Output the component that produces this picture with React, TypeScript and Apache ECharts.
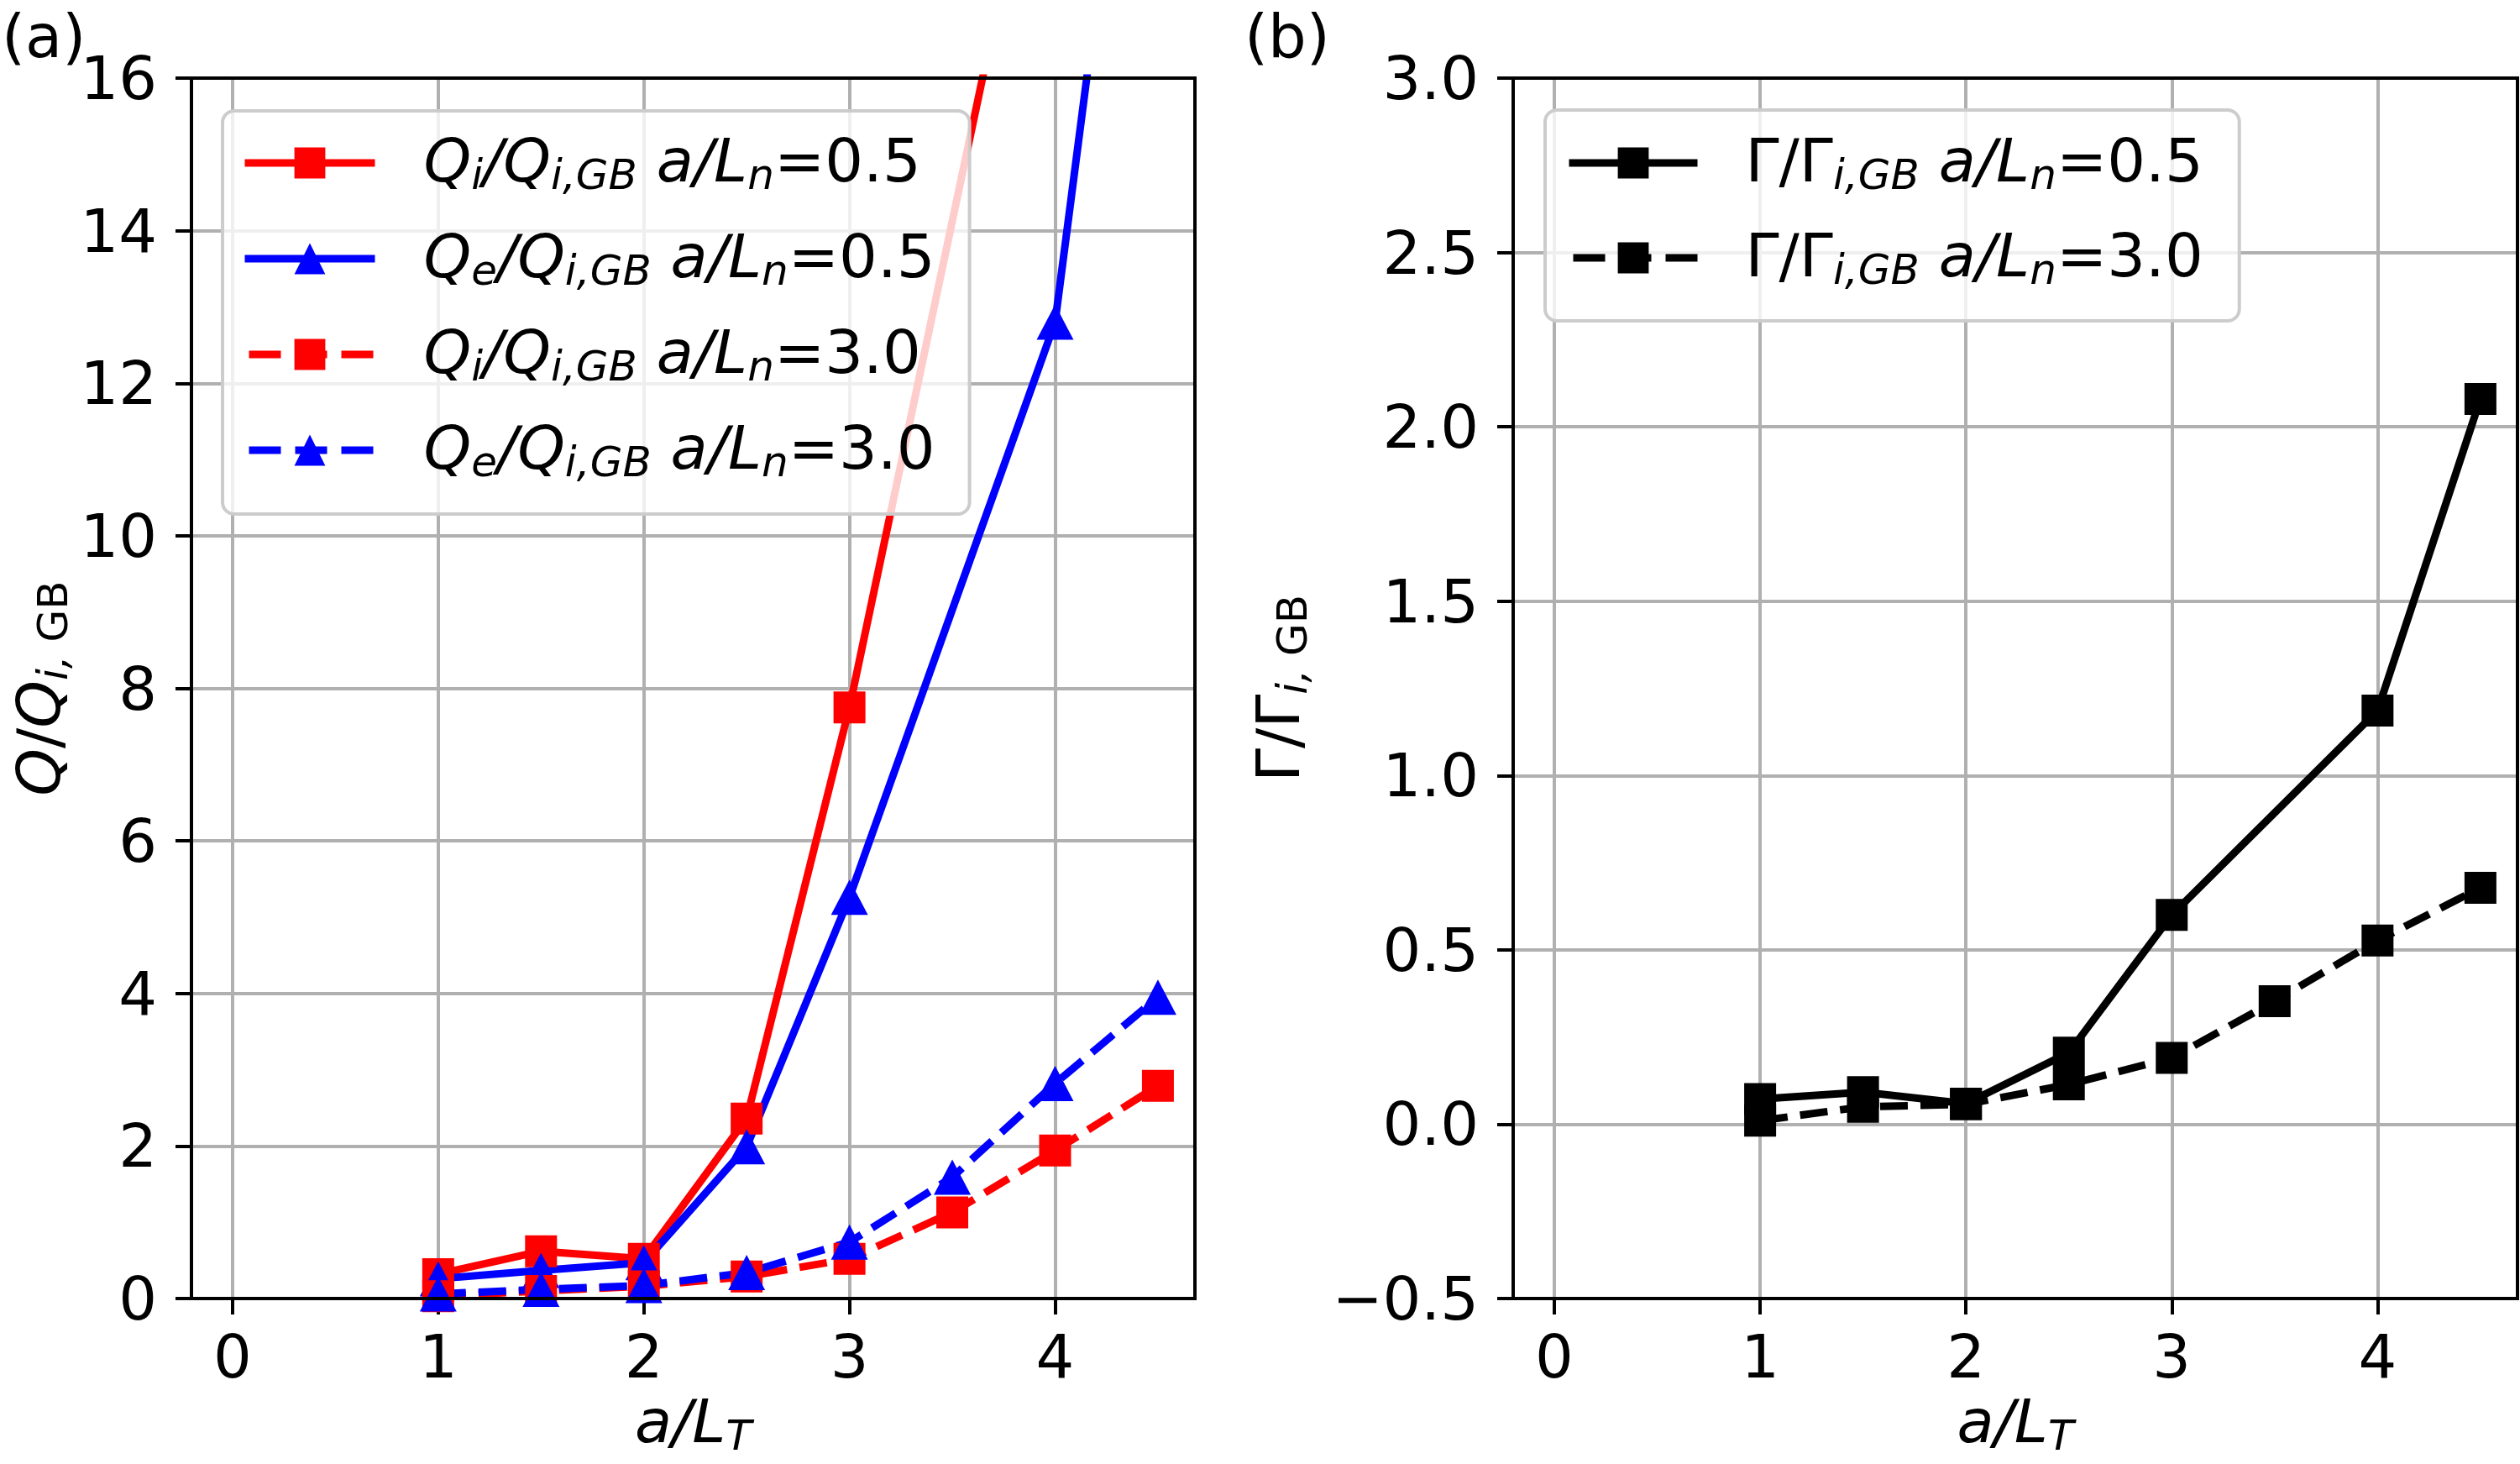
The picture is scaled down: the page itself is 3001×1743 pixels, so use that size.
import React, { useEffect, useRef } from "react";
import * as echarts from "echarts";

const FONT = "DejaVu Sans";

// ---- data ----
const xTicks = [0, 1, 2, 3, 4];

const xQi05 = [1, 1.5, 2, 2.5, 3, 4];
const yQi05 = [0.32, 0.62, 0.52, 2.36, 7.75, 20.5];

const xQe05 = [1, 1.5, 2, 2.5, 3, 4, 4.5];
const yQe05 = [0.26, 0.37, 0.47, 1.99, 5.26, 12.8, 23.2];

const x30 = [1, 1.5, 2, 2.5, 3, 3.5, 4, 4.5];
const yQi30 = [0.03, 0.1, 0.16, 0.29, 0.52, 1.13, 1.94, 2.79];
const yQe30 = [0.06, 0.12, 0.17, 0.34, 0.74, 1.59, 2.82, 3.95];

const xG05 = [1, 1.5, 2, 2.5, 3, 4, 4.5];
const yG05 = [0.072, 0.092, 0.059, 0.205, 0.6, 1.186, 2.08];
const xG30 = [1, 1.5, 2, 2.5, 3, 3.5, 4, 4.5];
const yG30 = [0.01, 0.05, 0.057, 0.114, 0.19, 0.353, 0.527, 0.678];

const namesLeft = [
  "Qi/Qi,GB a/Ln=0.5",
  "Qe/Qi,GB a/Ln=0.5",
  "Qi/Qi,GB a/Ln=3.0",
  "Qe/Qi,GB a/Ln=3.0",
];
const namesRight = ["Γ/Γi,GB a/Ln=0.5", "Γ/Γi,GB a/Ln=3.0"];
const dashedNames = [namesLeft[2], namesLeft[3], namesRight[1]];

const legendRich: Record<string, string> = {
  "Qi/Qi,GB a/Ln=0.5": "{itp|Q}{sub|i}{it|/Q}{sub|i,GB}{up| }{it|a/L}{sub|n}{up|=0.5}",
  "Qe/Qi,GB a/Ln=0.5": "{itp|Q}{sub|e}{it|/Q}{sub|i,GB}{up| }{it|a/L}{sub|n}{up|=0.5}",
  "Qi/Qi,GB a/Ln=3.0": "{itp|Q}{sub|i}{it|/Q}{sub|i,GB}{up| }{it|a/L}{sub|n}{up|=3.0}",
  "Qe/Qi,GB a/Ln=3.0": "{itp|Q}{sub|e}{it|/Q}{sub|i,GB}{up| }{it|a/L}{sub|n}{up|=3.0}",
  "Γ/Γi,GB a/Ln=0.5": "{upp|Γ/Γ}{sub|i,GB}{up| }{it|a/L}{sub|n}{up|=0.5}",
  "Γ/Γi,GB a/Ln=3.0": "{upp|Γ/Γ}{sub|i,GB}{up| }{it|a/L}{sub|n}{up|=3.0}",
};

const RED = "#ff0000";
const BLUE = "#0000ff";
const BLACK = "#000000";
const DASH = [33, 15];

function pairs(xs: number[], ys: number[]) {
  return xs.map((x, i) => [x, ys[i]]);
}

const base = { fontFamily: FONT, color: "#000", verticalAlign: "top" as const };
const rich = {
  it: { ...base, fontSize: 72, fontStyle: "italic" },
  up: { ...base, fontSize: 72, fontStyle: "normal" },
  sub: { ...base, fontSize: 50, fontStyle: "italic", padding: [28, 0, 0, 0] },
  subup: { ...base, fontSize: 50, fontStyle: "normal", padding: [28, 0, 0, 0] },
  itp: { ...base, fontSize: 72, fontStyle: "italic", padding: [0, 0, 0, 53] },
  upp: { ...base, fontSize: 72, fontStyle: "normal", padding: [0, 0, 0, 52] },
};

function mainX(g: number) {
  return {
    type: "value",
    gridIndex: g,
    position: "bottom",
    min: -0.2,
    max: 4.68,
    axisLine: { show: false, onZero: false },
    axisTick: {
      show: true,
      inside: false,
      length: 19,
      lineStyle: { color: "#000", width: 4 },
      customValues: xTicks,
    },
    axisLabel: {
      show: true,
      margin: 33,
      fontSize: 72,
      fontFamily: FONT,
      color: "#000",
      customValues: xTicks,
    },
    splitLine: { show: true, lineStyle: { color: "#b0b0b0", width: 4 } },
    name: "{it|a/L}{sub|T}",
    nameLocation: "middle",
    nameGap: 110,
    nameTextStyle: { fontSize: 72, fontFamily: FONT, color: "#000", rich },
    z: 0,
  };
}

function mainY(g: number, min: number, max: number, interval: number, name: string, nameGap: number, fmt?: (v: number) => string) {
  return {
    type: "value",
    gridIndex: g,
    position: "left",
    min,
    max,
    interval,
    axisLine: { show: false, onZero: false },
    axisTick: { show: true, inside: false, length: 19, lineStyle: { color: "#000", width: 4 } },
    axisLabel: {
      show: true,
      margin: 41,
      fontSize: 72,
      fontFamily: FONT,
      color: "#000",
      formatter: fmt,
    },
    splitLine: { show: true, lineStyle: { color: "#b0b0b0", width: 4 } },
    name,
    nameLocation: "middle",
    nameGap,
    nameTextStyle: { fontSize: 72, fontFamily: FONT, color: "#000", rich },
    z: 0,
  };
}

function frame(g: number, position: string, min: number, max: number) {
  return {
    type: "value",
    gridIndex: g,
    position,
    min,
    max,
    axisLine: { show: true, onZero: false, lineStyle: { color: "#000", width: 4, cap: "square" } },
    axisTick: { show: false },
    axisLabel: { show: false },
    splitLine: { show: false },
    z: 6,
  };
}

function lineSeries(name: string, xi: number, yi: number, data: number[][], color: string, symbol: string, dashed: boolean) {
  return {
    type: "line",
    name,
    xAxisIndex: xi,
    yAxisIndex: yi,
    data,
    symbol,
    symbolSize: symbol === "triangle" ? [44, 42] : 38,
    lineStyle: { color, width: 9, type: dashed ? DASH : "solid" },
    itemStyle: { color },
    clip: true,
    silent: true,
    z: 4,
  };
}

const fmtRight = (v: number) => (v < 0 ? "\u2212" : "") + Math.abs(v).toFixed(1);

function legendItems(names: string[]) {
  return names.map((n) =>
    dashedNames.indexOf(n) >= 0
      ? { name: n, lineStyle: { type: [38, 17], dashOffset: 50 } }
      : { name: n }
  );
}

const legendCommon = {
  orient: "vertical",
  itemWidth: 155,
  itemHeight: 46,
  backgroundColor: "rgba(255,255,255,0.8)",
  borderColor: "#cccccc",
  borderWidth: 4,
  borderRadius: 14,
  selectedMode: false,
  formatter: (n: string) => legendRich[n] || n,
  textStyle: { fontSize: 72, fontFamily: FONT, color: "#000", rich },
  lineStyle: { width: 9 },
  z: 10,
};

const option = {
  animation: false,
  backgroundColor: "#ffffff",
  textStyle: { fontFamily: FONT },
  title: [
    { text: "(a)", left: 2, top: 7, padding: 0, textStyle: { fontSize: 72, fontWeight: "normal", fontFamily: FONT, color: "#000" } },
    { text: "(b)", left: 1482, top: 7, padding: 0, textStyle: { fontSize: 72, fontWeight: "normal", fontFamily: FONT, color: "#000" } },
  ],
  grid: [
    { left: 228, top: 93, width: 1195, height: 1453, containLabel: false, outerBoundsMode: "none" },
    { left: 1802, top: 93, width: 1196, height: 1453, containLabel: false, outerBoundsMode: "none" },
  ],
  xAxis: [
    mainX(0),
    frame(0, "bottom", -0.2, 4.68),
    frame(0, "top", -0.2, 4.68),
    mainX(1),
    frame(1, "bottom", -0.2, 4.68),
    frame(1, "top", -0.2, 4.68),
  ],
  yAxis: [
    mainY(0, 0, 16, 2, "{it|Q}{up|/}{it|Q}{sub|i,}{subup| GB}", 140),
    frame(0, "left", 0, 16),
    frame(0, "right", 0, 16),
    mainY(1, -0.5, 3, 0.5, "{up|Γ/Γ}{sub|i,}{subup| GB}", 238, fmtRight),
    frame(1, "left", -0.5, 3),
    frame(1, "right", -0.5, 3),
  ],
  legend: [
    { ...legendCommon, data: legendItems(namesLeft), left: 265, top: 132, padding: [23, 41, 37, 22], itemGap: 36 },
    { ...legendCommon, data: legendItems(namesRight), left: 1840, top: 131, padding: [24, 43, 36, 24], itemWidth: 153, itemGap: 35 },
  ],
  series: [
    lineSeries(namesLeft[0], 0, 0, pairs(xQi05, yQi05), RED, "rect", false),
    lineSeries(namesLeft[1], 0, 0, pairs(xQe05, yQe05), BLUE, "triangle", false),
    lineSeries(namesLeft[2], 0, 0, pairs(x30, yQi30), RED, "rect", true),
    lineSeries(namesLeft[3], 0, 0, pairs(x30, yQe30), BLUE, "triangle", true),
    lineSeries(namesRight[0], 3, 3, pairs(xG05, yG05), BLACK, "rect", false),
    lineSeries(namesRight[1], 3, 3, pairs(xG30, yG30), BLACK, "rect", true),
  ],
};

export default function App() {
  const ref = useRef<HTMLDivElement>(null);
  useEffect(() => {
    if (!ref.current) return;
    const chart = echarts.init(ref.current, null, { renderer: "svg" });
    chart.setOption(option as any);
    return () => chart.dispose();
  }, []);
  return (
    <div
      ref={ref}
      style={{ position: "absolute", left: 0, top: 0, width: 3001, height: 1743, background: "#fff" }}
    />
  );
}
